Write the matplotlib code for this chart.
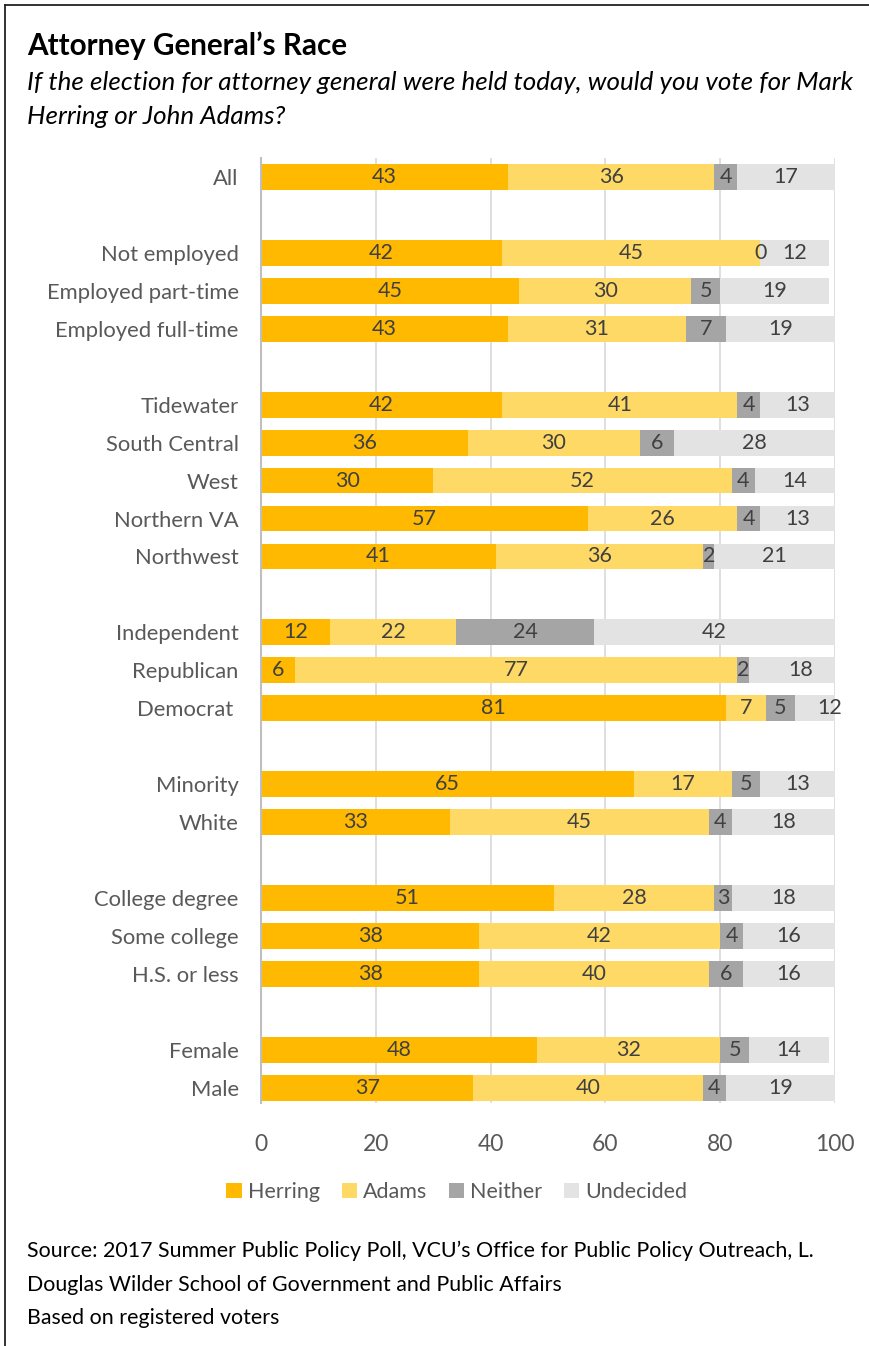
import matplotlib
matplotlib.use("Agg")
import matplotlib.pyplot as plt
from matplotlib.lines import Line2D

plt.rcParams['font.family'] = ['Lato', 'DejaVu Sans']

# Row labels, top to bottom; empty strings are spacer rows between groups
categories = ["All", "",
              "Not employed", "Employed part-time", "Employed full-time", "",
              "Tidewater", "South Central", "West", "Northern VA", "Northwest", "",
              "Independent", "Republican", "Democrat ", "",
              "Minority", "White", "",
              "College degree", "Some college", "H.S. or less", "",
              "Female", "Male"]

herring   = [43, None, 42, 45, 43, None, 42, 36, 30, 57, 41, None, 12, 6, 81, None, 65, 33, None, 51, 38, 38, None, 48, 37]
adams     = [36, None, 45, 30, 31, None, 41, 30, 52, 26, 36, None, 22, 77, 7, None, 17, 45, None, 28, 42, 40, None, 32, 40]
neither   = [4, None, 0, 5, 7, None, 4, 6, 4, 4, 2, None, 24, 2, 5, None, 5, 4, None, 3, 4, 6, None, 5, 4]
undecided = [17, None, 12, 19, 19, None, 13, 28, 14, 13, 21, None, 42, 18, 12, None, 13, 18, None, 18, 16, 16, None, 14, 19]

series = [("Herring", herring, "#FFB900"),
          ("Adams", adams, "#FFD966"),
          ("Neither", neither, "#A5A5A5"),
          ("Undecided", undecided, "#E3E3E3")]

ticks = [0, 20, 40, 60, 80, 100]

W, H = 870, 1346
fig = plt.figure(figsize=(W / 100, H / 100), dpi=100)

# frame lines along the left and top edges
fig.add_artist(Line2D([5 / W, 5 / W], [0, 1 - 5 / H], transform=fig.transFigure,
                      color="#222222", linewidth=1.3))
fig.add_artist(Line2D([5 / W, 1], [1 - 5 / H, 1 - 5 / H], transform=fig.transFigure,
                      color="#222222", linewidth=1.3))

ax = fig.add_axes([261 / W, 1 - 1103 / H, (835 - 261) / W, (1103 - 158) / H])

rows = list(range(len(categories)))
left = [0.0] * len(categories)
for name, vals, color in series:
    ys = [r for r, v in zip(rows, vals) if v is not None]
    ws = [v for v in vals if v is not None]
    ls = [left[r] for r in ys]
    ax.barh(ys, ws, left=ls, height=0.68, color=color, label=name, zorder=3)
    for y, w, l in zip(ys, ws, ls):
        ax.text(l + w / 2, y, f"{w}", ha="center", va="center",
                fontsize=15.5, color="#404040", zorder=4, clip_on=False)
    for r, v in zip(rows, vals):
        if v is not None:
            left[r] += v

ax.set_xlim(0, 100)
ax.set_ylim(24.4, -0.5)
ax.set_xticks(ticks)
ax.set_xticklabels([str(t) for t in ticks])
ax.set_yticks(rows)
ax.set_yticklabels(categories)
ax.tick_params(axis="both", length=0, labelcolor="#595959")
ax.tick_params(axis="y", pad=16, labelsize=15.8)
ax.tick_params(axis="x", pad=22, labelsize=16.5)
ax.grid(axis="x", color="#D9D9D9", linewidth=1.2, zorder=0)
for s in ["top", "right", "bottom"]:
    ax.spines[s].set_visible(False)
ax.spines["left"].set_color("#BFBFBF")
ax.spines["left"].set_linewidth(1.5)
ax.spines["left"].set_zorder(5)

fig.legend(loc="center", bbox_to_anchor=(457 / W, 1 - 1192 / H), ncol=4,
           frameon=False, fontsize=15.5, handlelength=0.7, handleheight=0.7,
           handletextpad=0.3, columnspacing=1.0, labelcolor="#595959")

fig.text(27 / W, 1 - 46 / H, "Attorney General’s Race", fontsize=21.3,
         fontweight="bold", color="#000000", va="center", ha="left")
fig.text(27 / W, 1 - 82 / H,
         "If the election for attorney general were held today, would you vote for Mark",
         fontsize=18.7, style="italic", va="center", ha="left")
fig.text(27 / W, 1 - 116 / H, "Herring or John Adams?", fontsize=18.7,
         style="italic", va="center", ha="left")

fig.text(27 / W, 1 - 1251 / H,
         "Source: 2017 Summer Public Policy Poll, VCU’s Office for Public Policy Outreach, L.",
         fontsize=15.4, va="center", ha="left")
fig.text(27 / W, 1 - 1285 / H,
         "Douglas Wilder School of Government and Public Affairs",
         fontsize=15.4, va="center", ha="left")
fig.text(27 / W, 1 - 1318 / H, "Based on registered voters",
         fontsize=15.4, va="center", ha="left")

fig.savefig("out.png", dpi=100, facecolor="white")
